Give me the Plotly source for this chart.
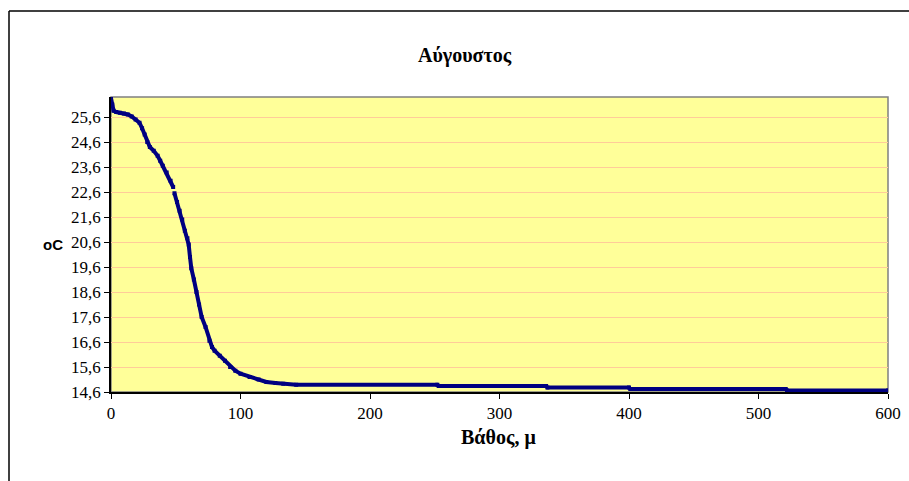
import plotly.graph_objects as go

# Water temperature profile, August (depth in metres, temperature in °C)
depth = [0, 1, 2, 4, 7, 10, 13, 16, 19, 22, 24, 26, 28, 30, 33, 36, 38, 40, 43, 46, 48,
         None,
         49, 51, 53, 55, 57, 59, 60, 61, 62, 64, 66, 68, 70, 73, 76, 78, 80, 84, 88, 92,
         96, 100, 107, 114, 120, 127, 133, 143, 252, 253, 336, 337, 400, 401, 499,
         None,
         501, 521, 522, 600]
temperature = [26.35, 26.1, 25.85, 25.8, 25.77, 25.74, 25.7, 25.62, 25.5, 25.37, 25.15, 24.9,
               24.6, 24.4, 24.25, 24.05, 23.85, 23.65, 23.38, 23.05, 22.8,
               None,
               22.55, 22.2, 21.85, 21.5, 21.05, 20.75, 20.5, 20.0, 19.55, 19.1, 18.6, 18.1,
               17.6, 17.2, 16.65, 16.4, 16.25, 16.05, 15.85, 15.6, 15.45, 15.33, 15.2, 15.1,
               15.0, 14.96, 14.93, 14.89, 14.89, 14.84, 14.84, 14.78, 14.78, 14.72, 14.72,
               None,
               14.72, 14.72, 14.66, 14.66]

y_ticks = [14.6, 15.6, 16.6, 17.6, 18.6, 19.6, 20.6, 21.6, 22.6, 23.6, 24.6, 25.6]
y_tick_text = [f"{v:.1f}".replace(".", ",") for v in y_ticks]
x_ticks = [0, 100, 200, 300, 400, 500, 600]

title_text = "Αύγουστος"
x_title = "Βάθος, μ"
y_title = "oC"

W, H = 909, 481
L, R, T, B = 111, 21, 97, 89
pw, ph = W - L - R, H - T - B


def px_x(p):
    return (p - L) / pw


def px_y(p):
    return (H - B - p) / ph


fig = go.Figure()
fig.add_trace(go.Scatter(
    x=depth, y=temperature, mode="lines+markers",
    line=dict(color="#000080", width=4),
    marker=dict(symbol="square", size=4, color="#000080"),
    connectgaps=False, showlegend=False, hoverinfo="skip",
))

serif = "Liberation Serif"
sans = "Liberation Sans"

fig.update_layout(
    width=W, height=H,
    margin=dict(l=L, r=R, t=T, b=B, autoexpand=False),
    paper_bgcolor="white",
    plot_bgcolor="#FFFF99",
    font=dict(family=serif, size=17, color="black"),
    xaxis=dict(
        range=[0, 600], tickvals=x_ticks, ticks="outside", ticklen=5, tickcolor="black",
        showline=True, linecolor="black", linewidth=1.5, showgrid=False, zeroline=False,
        tickfont=dict(family=serif, size=17, color="black"), automargin=False,
    ),
    yaxis=dict(
        range=[14.6, 26.4], tickvals=y_ticks, ticktext=y_tick_text, ticks="outside",
        ticklen=5, tickcolor="black", showline=True, linecolor="black", linewidth=1.5,
        showgrid=True, gridcolor="#FFCC99", gridwidth=1, zeroline=False,
        tickfont=dict(family=serif, size=17, color="black"), automargin=False,
    ),
    shapes=[
        # plot area frame (top and right edges in grey)
        dict(type="rect", xref="paper", yref="paper", x0=0, x1=1, y0=0, y1=1,
             line=dict(color="#808080", width=1.5), layer="below"),
        # outer chart border
        dict(type="line", xref="paper", yref="paper",
             x0=px_x(9), x1=px_x(W + 5), y0=px_y(11), y1=px_y(11),
             line=dict(color="black", width=1.5)),
        dict(type="line", xref="paper", yref="paper",
             x0=px_x(9), x1=px_x(9), y0=px_y(11), y1=px_y(H + 5),
             line=dict(color="black", width=1.5)),
    ],
    annotations=[
        dict(text=f"<b>{title_text}</b>", xref="paper", yref="paper",
             x=px_x(465), y=px_y(42), showarrow=False,
             font=dict(family=serif, size=20, color="black")),
        dict(text=f"<b>{x_title}</b>", xref="paper", yref="paper",
             x=px_x(498), y=px_y(451), showarrow=False,
             font=dict(family=serif, size=20, color="black")),
        dict(text=f"<b>{y_title}</b>", xref="paper", yref="paper",
             x=px_x(41), y=px_y(244), showarrow=False,
             font=dict(family=sans, size=15, color="black")),
    ],
)

fig.write_html("out.html")
